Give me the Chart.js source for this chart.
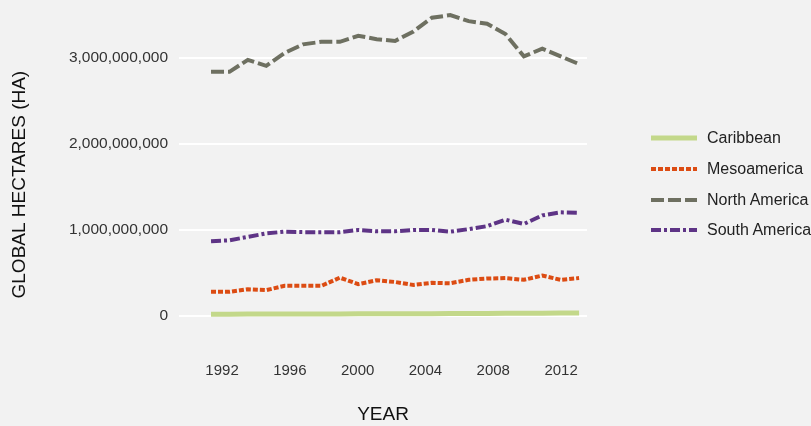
<!DOCTYPE html>
<html>
<head>
<meta charset="utf-8">
<script src="https://cdn.jsdelivr.net/npm/chart.js@4"></script>
<style>
  html, body { margin: 0; padding: 0; background: #f2f2f2; }
  #wrap { position: relative; width: 811px; height: 426px; }
  #legend { position: absolute; left: 651px; top: 123px; font: 16px "Liberation Sans", Arial, sans-serif; color: #222; }
  .item { display: flex; align-items: center; height: 30.7px; white-space: nowrap; }
  .item svg { margin-right: 10px; }
</style>
</head>
<body>
<div id="wrap">
  <canvas id="footprint-chart" width="811" height="426"></canvas>
  <div id="legend"></div>
</div>
<script>
// Ecological footprint by region, 1992-2012 (global hectares)
const years = [1992, 1993, 1994, 1995, 1996, 1997, 1998, 1999, 2000, 2001, 2002,
               2003, 2004, 2005, 2006, 2007, 2008, 2009, 2010, 2011, 2012];
const caribbean = [20e6, 20e6, 21e6, 21e6, 22e6, 22e6, 23e6, 23e6, 24e6, 24e6, 25e6,
                   25e6, 26e6, 27e6, 28e6, 29e6, 30e6, 31e6, 32e6, 33e6, 35e6];
const mesoamerica = [280e6, 280e6, 310e6, 300e6, 350e6, 350e6, 350e6, 445e6, 370e6, 415e6, 395e6,
                     360e6, 385e6, 380e6, 420e6, 435e6, 440e6, 420e6, 470e6, 420e6, 440e6];
const northAmerica = [2.84e9, 2.84e9, 2.98e9, 2.91e9, 3.06e9, 3.16e9, 3.19e9, 3.19e9, 3.26e9, 3.22e9, 3.20e9,
                      3.31e9, 3.47e9, 3.50e9, 3.43e9, 3.40e9, 3.28e9, 3.02e9, 3.11e9, 3.02e9, 2.93e9];
const southAmerica = [870e6, 880e6, 920e6, 960e6, 980e6, 975e6, 975e6, 975e6, 1000e6, 985e6, 985e6,
                      1000e6, 1000e6, 980e6, 1010e6, 1045e6, 1120e6, 1070e6, 1170e6, 1205e6, 1200e6];
const yTicks = [0, 1e9, 2e9, 3e9];
const xTicks = [1992, 1996, 2000, 2004, 2008, 2012];

const series = [
    { label: 'Caribbean', values: caribbean, color: '#c3d88a', width: 5, dash: [] },
    { label: 'Mesoamerica', values: mesoamerica, color: '#dc4c13', width: 4, dash: [5, 2] },
    { label: 'North America', values: northAmerica, color: '#6e7061', width: 4, dash: [13, 4] },
    { label: 'South America', values: southAmerica, color: '#5e3486', width: 4, dash: [10, 3, 3, 3] }
];

const fontFamily = '"Liberation Sans", Arial, Helvetica, sans-serif';

// Legend with line samples
const legend = document.getElementById('legend');
series.forEach(s => {
    const item = document.createElement('div');
    item.className = 'item';
    item.innerHTML = '<svg width="46" height="6"><line x1="0" y1="3" x2="46" y2="3" stroke="' + s.color
        + '" stroke-width="' + s.width + '" stroke-dasharray="' + (s.dash.length ? s.dash.join(',') : 'none')
        + '"/></svg>' + s.label;
    legend.appendChild(item);
});

new Chart(document.getElementById('footprint-chart'), {
    type: 'line',
    data: {
        datasets: series.map(s => ({
            label: s.label,
            data: years.map((y, i) => ({ x: y, y: s.values[i] })),
            borderColor: s.color,
            backgroundColor: s.color,
            borderWidth: s.width,
            borderDash: s.dash,
            pointRadius: 0,
            tension: 0,
            fill: false,
            clip: false,
            xAxisID: 'x'
        }))
    },
    options: {
        responsive: false,
        animation: false,
        layout: { padding: { top: 1, right: 224, bottom: 0, left: 0 } },
        plugins: { legend: { display: false }, tooltip: { enabled: false } },
        scales: {
            x: {
                type: 'linear',
                display: false,
                min: 1990.26,
                max: 2012.43
            },
            xLabels: {
                type: 'linear',
                position: 'bottom',
                min: 1989.46,
                max: 2013.53,
                grid: { display: false, drawTicks: false },
                border: { display: false },
                afterBuildTicks: scale => { scale.ticks = xTicks.map(v => ({ value: v })); },
                afterFit: scale => { scale.height = 77; },
                ticks: {
                    padding: 13,
                    color: '#333',
                    font: { family: fontFamily, size: 15 },
                    callback: v => String(v)
                },
                title: {
                    display: true,
                    text: 'YEAR',
                    color: '#111',
                    font: { family: fontFamily, size: 19 },
                    padding: { top: 0, bottom: 0 }
                }
            },
            y: {
                min: -0.385e9,
                max: 3.44e9,
                grid: { color: '#ffffff', lineWidth: 2, drawTicks: false },
                border: { display: false },
                afterBuildTicks: scale => { scale.ticks = yTicks.map(v => ({ value: v })); },
                afterFit: scale => { scale.width = 179; },
                ticks: {
                    padding: 11,
                    color: '#333',
                    font: { family: fontFamily, size: 15.5 },
                    callback: v => v.toLocaleString('en-US')
                },
                title: {
                    display: true,
                    text: 'GLOBAL HECTARES (HA)',
                    color: '#111',
                    font: { family: fontFamily, size: 19 },
                    padding: { top: 8, bottom: 0 }
                }
            }
        }
    }
});
</script>
</body>
</html>
